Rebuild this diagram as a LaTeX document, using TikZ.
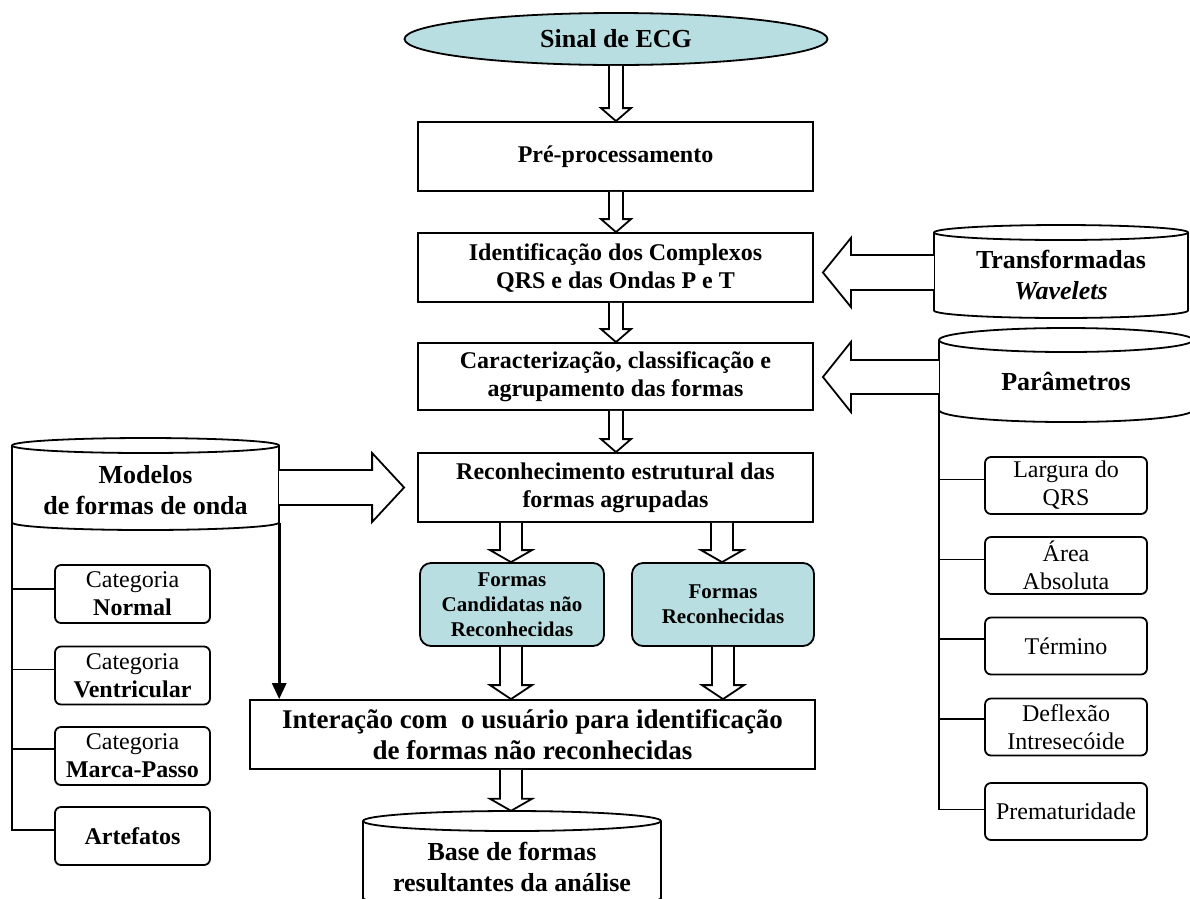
\documentclass[tikz,border=0pt]{standalone}
\usepackage{fontspec}
\setmainfont{Liberation Serif}
\usetikzlibrary{shapes.geometric,arrows.meta,calc}
\definecolor{cyanfill}{RGB}{184,222,226}
\newcommand\fbig{\fontsize{26}{31}\selectfont\bfseries}
\newcommand\fint{\fontsize{27}{31}\selectfont\bfseries}
\newcommand\fmid{\fontsize{24}{28}\selectfont\bfseries}
\newcommand\fsml{\fontsize{21}{25}\selectfont\bfseries}
\newcommand\freg{\fontsize{24}{28}\selectfont}
% cylinder outline: L R T B ry (pixel coords, y downwards)
\newcommand\drawcyl[5]{%
  \draw[ln,fill=white] (#1,{-#3-#5}) -- (#1,{-#4+#5})
    arc[start angle=180,end angle=360,x radius={(#2-#1)/2},y radius=#5]
    -- (#2,{-#3-#5})
    arc[start angle=0,end angle=180,x radius={(#2-#1)/2},y radius=#5] -- cycle;
  \draw[ln] (#1,{-#3-#5}) arc[start angle=180,end angle=360,x radius={(#2-#1)/2},y radius=#5];}
% hollow down arrow: from, to, x, shaft half, head half, head length
\newcommand\darrow[6]{%
  \draw[blk] let \p1=(#1.south), \p2=(#2.north) in
    ({#3-#4},\y1) -- ({#3-#4},{\y2+#6pt}) -- ({#3-#5},{\y2+#6pt}) -- (#3,\y2)
    -- ({#3+#5},{\y2+#6pt}) -- ({#3+#4},{\y2+#6pt}) -- ({#3+#4},\y1);}
% hollow left arrow: from, to, y, shaft half, head half, head length, gap
\newcommand\larrow[7]{%
  \draw[blk] let \p1=(#1.west), \p2=([xshift=#7pt]#2.east) in
    (\x1,{-#3+#4}) -- ({\x2+#6pt},{-#3+#4}) -- ({\x2+#6pt},{-#3+#5}) -- (\x2,{-#3})
    -- ({\x2+#6pt},{-#3-#5}) -- ({\x2+#6pt},{-#3-#4}) -- (\x1,{-#3-#4});}
% hollow right arrow
\newcommand\rarrow[7]{%
  \draw[blk] let \p1=(#1.east), \p2=([xshift=-#7pt]#2.west) in
    (\x1,{-#3+#4}) -- ({\x2-#6pt},{-#3+#4}) -- ({\x2-#6pt},{-#3+#5}) -- (\x2,{-#3})
    -- ({\x2-#6pt},{-#3-#5}) -- ({\x2-#6pt},{-#3-#4}) -- (\x1,{-#3-#4});}
\begin{document}
\begin{tikzpicture}[x=1pt,y=1pt,
  ln/.style={line width=1.8pt},
  pbox/.style={draw, ln, rectangle, inner sep=2pt, align=center, fill=white},
  rpbox/.style={pbox, rounded corners=6pt},
  cpbox/.style={pbox, rounded corners=11pt, fill=cyanfill},
  blk/.style={draw, ln, fill=white, line join=miter},
  frame/.style={inner sep=0pt, draw=none},
  cyltext/.style={inner sep=0pt, align=center, font=\fbig}]
\useasboundingbox (0,0) rectangle (1190,-898);

% ---- source ellipse
\node[ellipse, draw, ln, fill=cyanfill, minimum width=423, minimum height=52, inner sep=0pt, font=\fbig] (ecg) at (616,-39) {Sinal de ECG};

% ---- central boxes
\node[pbox, font=\fmid, minimum width=395, minimum height=69] (pre) at (615.5,-156.5) {Pré-processamento};
\node[pbox, font=\fmid, minimum width=395, minimum height=69] (ident) at (615.5,-267.5) {Identificação dos Complexos\\ QRS e das Ondas P e T};
\node[pbox, font=\fmid, minimum width=395, minimum height=67] (carac) at (615.5,-376.5) {Caracterização, classificação e\\ agrupamento das formas};
\node[pbox, font=\fmid, minimum width=395, minimum height=69] (recon) at (615.5,-487.5) {Reconhecimento estrutural das\\ formas agrupadas};
\node[cpbox, font=\fsml, minimum width=184, minimum height=83] (cand) at (512,-604.5) {Formas\\ Candidatas não\\ Reconhecidas};
\node[cpbox, font=\fsml, minimum width=182, minimum height=83] (recog) at (723,-604.5) {Formas\\ Reconhecidas};
\node[pbox, font=\fint, minimum width=565, minimum height=69] (inter) at (532.5,-734.5) {Interação com\ \ o usuário para identificação\\ de formas não reconhecidas};

% ---- cylinders
\drawcyl{934}{1188}{225}{318}{7.5}
\node[frame, minimum width=254, minimum height=93] (trans) at (1061,-271.5) {};
\node[cyltext] (transt) at (1061,-275) {Transformadas\\ \textit{Wavelets}};

\drawcyl{939}{1193}{328}{422}{12}
\node[frame, minimum width=254, minimum height=94] (param) at (1066,-375) {};
\node[cyltext] (paramt) at (1066,-381) {Parâmetros};

\drawcyl{12}{279}{438}{530}{7.5}
\node[frame, minimum width=267, minimum height=92] (model) at (145.5,-484) {};
\node[cyltext] (modelt) at (145.5,-490) {Modelos\\ de formas de onda};

\drawcyl{363}{661}{811}{908}{10}
\node[frame, minimum width=298, minimum height=97] (base) at (512,-859.5) {};
\node[cyltext] (baset) at (512,-866.5) {Base de formas\\ resultantes da análise};

% ---- parameter boxes
\node[rpbox, font=\freg, minimum width=162, minimum height=57] (lq) at (1066,-485.5) {Largura do\\ QRS};
\node[rpbox, font=\freg, minimum width=162, minimum height=57] (aa) at (1066,-565.5) {Área\\ Absoluta};
\node[rpbox, font=\freg, minimum width=162, minimum height=57] (term) at (1066,-646) {Término};
\node[rpbox, font=\freg, minimum width=162, minimum height=57] (defl) at (1066,-727) {Deflexão\\ Intresecóide};
\node[rpbox, font=\freg, minimum width=162, minimum height=57] (prem) at (1066,-811.5) {Prematuridade};

% ---- category boxes
\node[rpbox, font=\freg, minimum width=155, minimum height=58] (cn) at (132.5,-594) {Categoria\\ \textbf{Normal}};
\node[rpbox, font=\freg, minimum width=155, minimum height=58] (cv) at (132.5,-675.5) {Categoria\\ \textbf{Ventricular}};
\node[rpbox, font=\freg, minimum width=155, minimum height=58] (cm) at (132.5,-756) {Categoria\\ \textbf{Marca-Passo}};
\node[rpbox, font=\freg, minimum width=155, minimum height=58] (ca) at (132.5,-836) {\textbf{Artefatos}};

% ---- block arrows
\darrow{ecg}{pre}{616}{7}{15}{13}
\darrow{pre}{ident}{616}{7}{15}{13}
\darrow{ident}{carac}{616}{7}{15}{13}
\darrow{carac}{recon}{616}{7}{15}{13}
\darrow{recon}{cand}{511}{11}{21}{12}
\darrow{recon}{recog}{722}{11}{21}{12}
\darrow{cand}{inter}{511}{11}{21}{14}
\darrow{recog}{inter}{723}{11}{21}{14}
\darrow{inter}{base}{511}{11}{21}{12}
\larrow{trans}{ident}{272.5}{17.5}{34.5}{28}{9}
\larrow{param}{carac}{377}{17}{35}{28}{9}
\rarrow{model}{recon}{487.5}{17.5}{34.5}{32}{13}

% ---- thick arrow from models to interaction
\draw[line width=3pt, -{Triangle[length=16pt,width=14pt]}] ([yshift=7.5pt]model.south east) -- (model.south east |- inter.north);

% ---- trees
\draw[ln] ([yshift=7.5pt]model.south west) |- ([yshift=5pt]cn.west);
\draw[ln] ([yshift=7.5pt]model.south west) |- ([yshift=6pt]cv.west);
\draw[ln] ([yshift=7.5pt]model.south west) |- ([yshift=7pt]cm.west);
\draw[ln] ([yshift=7.5pt]model.south west) |- ([yshift=6pt]ca.west);

\draw[ln] ([yshift=12pt]param.south west) |- ([yshift=6pt]lq.west);
\draw[ln] ([yshift=12pt]param.south west) |- ([yshift=6pt]aa.west);
\draw[ln] ([yshift=12pt]param.south west) |- ([yshift=7pt]term.west);
\draw[ln] ([yshift=12pt]param.south west) |- ([yshift=8pt]defl.west);
\draw[ln] ([yshift=12pt]param.south west) |- ([yshift=2pt]prem.west);
\end{tikzpicture}
\end{document}
